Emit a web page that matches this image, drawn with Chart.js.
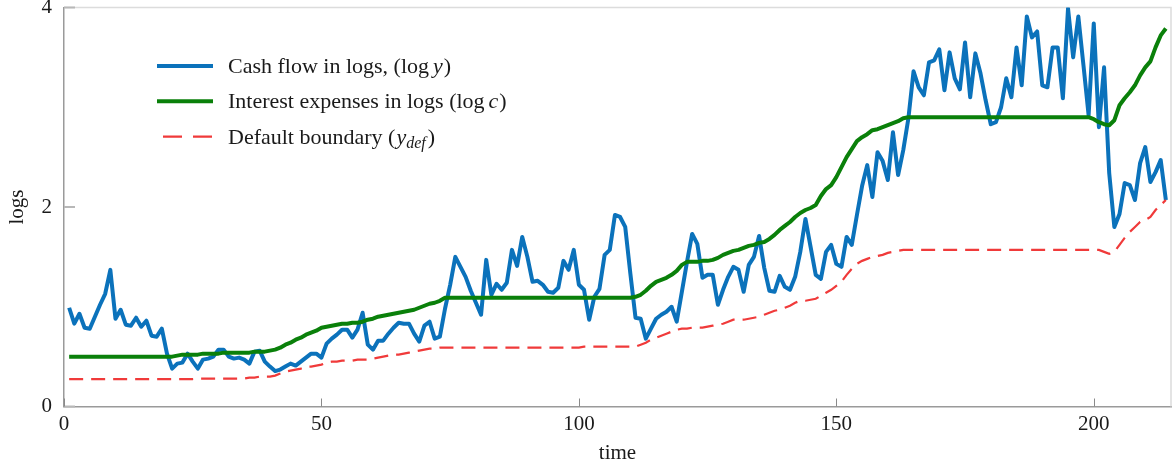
<!DOCTYPE html>
<html><head><meta charset="utf-8">
<script src="https://cdn.jsdelivr.net/npm/chart.js@4.4.0/dist/chart.umd.min.js"></script>
<style>html,body{margin:0;padding:0;background:#fff;}#wrap{position:relative;width:1173px;height:469px;}</style>
</head><body><div id="wrap"><canvas id="c" width="1173" height="469"></canvas></div>
<script>
const time = [1,2,3,4,5,6,7,8,9,10,11,12,13,14,15,16,17,18,19,20,21,22,23,24,25,26,27,28,29,30,31,32,33,34,35,36,37,38,39,40,41,42,43,44,45,46,47,48,49,50,51,52,53,54,55,56,57,58,59,60,61,62,63,64,65,66,67,68,69,70,71,72,73,74,75,76,77,78,79,80,81,82,83,84,85,86,87,88,89,90,91,92,93,94,95,96,97,98,99,100,101,102,103,104,105,106,107,108,109,110,111,112,113,114,115,116,117,118,119,120,121,122,123,124,125,126,127,128,129,130,131,132,133,134,135,136,137,138,139,140,141,142,143,144,145,146,147,148,149,150,151,152,153,154,155,156,157,158,159,160,161,162,163,164,165,166,167,168,169,170,171,172,173,174,175,176,177,178,179,180,181,182,183,184,185,186,187,188,189,190,191,192,193,194,195,196,197,198,199,200,201,202,203,204,205,206,207,208,209,210,211,212,213,214];

const cashFlow = [
0.99,0.83,0.93,0.79,0.78,0.90,1.02,1.13,1.37,0.88,
0.97,0.82,0.81,0.89,0.80,0.86,0.71,0.70,0.78,0.53,
0.38,0.43,0.44,0.53,0.45,0.38,0.47,0.48,0.50,0.57,
0.57,0.50,0.48,0.49,0.47,0.43,0.55,0.56,0.45,0.40,
0.355,0.37,0.40,0.43,0.41,0.45,0.49,0.53,0.53,0.49,
0.63,0.68,0.72,0.77,0.77,0.69,0.77,0.94,0.62,0.57,
0.66,0.66,0.73,0.79,0.84,0.83,0.83,0.73,0.65,0.81,
0.85,0.68,0.70,0.98,1.22,1.50,1.40,1.30,1.16,1.04,
0.92,1.47,1.12,1.23,1.17,1.24,1.57,1.41,1.70,1.50,
1.25,1.26,1.22,1.15,1.14,1.19,1.46,1.37,1.57,1.22,
1.17,0.87,1.10,1.18,1.52,1.57,1.92,1.90,1.80,1.33,
0.89,0.88,0.68,0.78,0.88,0.92,0.95,1.00,0.85,1.15,
1.45,1.73,1.63,1.29,1.32,1.32,1.02,1.17,1.30,1.40,
1.37,1.15,1.42,1.50,1.71,1.39,1.16,1.15,1.31,1.20,
1.17,1.30,1.55,1.88,1.60,1.32,1.28,1.55,1.62,1.43,
1.40,1.70,1.62,1.92,2.21,2.42,2.10,2.55,2.46,2.27,
2.75,2.32,2.57,2.89,3.36,3.20,3.12,3.45,3.47,3.58,
3.17,3.55,3.29,3.18,3.65,3.10,3.54,3.34,3.07,2.83,
2.85,3.00,3.29,3.10,3.60,3.22,3.91,3.70,3.76,3.22,
3.20,3.60,3.60,3.09,3.99,3.50,3.91,3.42,2.92,3.84,
2.80,3.40,2.34,1.80,1.93,2.24,2.22,2.07,2.44,2.60,
2.25,2.35,2.47,2.07];

const interest = [
0.50,0.50,0.50,0.50,0.50,0.50,0.50,0.50,0.50,0.50,
0.50,0.50,0.50,0.50,0.50,0.50,0.50,0.50,0.50,0.50,
0.50,0.51,0.52,0.52,0.52,0.52,0.53,0.53,0.53,0.53,
0.54,0.54,0.54,0.54,0.54,0.54,0.55,0.55,0.55,0.56,
0.57,0.59,0.62,0.64,0.67,0.69,0.72,0.74,0.76,0.79,
0.80,0.81,0.82,0.83,0.83,0.84,0.84,0.85,0.87,0.88,
0.90,0.91,0.92,0.93,0.94,0.95,0.96,0.97,0.99,1.01,
1.03,1.04,1.06,1.09,1.09,1.09,1.09,1.09,1.09,1.09,
1.09,1.09,1.09,1.09,1.09,1.09,1.09,1.09,1.09,1.09,
1.09,1.09,1.09,1.09,1.09,1.09,1.09,1.09,1.09,1.09,
1.09,1.09,1.09,1.09,1.09,1.09,1.09,1.09,1.09,1.09,
1.10,1.12,1.16,1.21,1.25,1.27,1.29,1.32,1.36,1.42,
1.45,1.45,1.45,1.46,1.46,1.47,1.49,1.52,1.54,1.56,
1.57,1.59,1.61,1.62,1.64,1.65,1.68,1.72,1.77,1.81,
1.85,1.90,1.94,1.97,1.99,2.02,2.11,2.18,2.22,2.30,
2.40,2.50,2.58,2.66,2.70,2.73,2.77,2.78,2.80,2.82,
2.84,2.86,2.89,2.90,2.90,2.90,2.90,2.90,2.90,2.90,
2.90,2.90,2.90,2.90,2.90,2.90,2.90,2.90,2.90,2.90,
2.90,2.90,2.90,2.90,2.90,2.90,2.90,2.90,2.90,2.90,
2.90,2.90,2.90,2.90,2.90,2.90,2.90,2.90,2.90,2.88,
2.85,2.83,2.82,2.87,3.02,3.09,3.15,3.22,3.32,3.40,
3.46,3.60,3.72,3.79];

const defaultBoundary = [
0.275,0.275,0.275,0.275,0.275,0.275,0.275,0.275,0.275,0.275,
0.275,0.275,0.275,0.275,0.275,0.275,0.275,0.275,0.275,0.275,
0.275,0.275,0.275,0.275,0.275,0.28,0.28,0.28,0.28,0.28,
0.28,0.28,0.28,0.28,0.28,0.29,0.29,0.30,0.30,0.30,
0.31,0.33,0.35,0.36,0.37,0.38,0.40,0.40,0.41,0.42,
0.44,0.45,0.45,0.46,0.46,0.46,0.47,0.47,0.47,0.48,
0.49,0.50,0.51,0.52,0.52,0.53,0.54,0.55,0.56,0.57,
0.58,0.58,0.59,0.59,0.59,0.59,0.59,0.59,0.59,0.59,
0.59,0.59,0.59,0.59,0.59,0.59,0.59,0.59,0.59,0.59,
0.59,0.59,0.59,0.59,0.59,0.59,0.59,0.59,0.59,0.59,
0.60,0.60,0.60,0.60,0.60,0.60,0.60,0.60,0.60,0.60,
0.60,0.62,0.64,0.67,0.69,0.71,0.73,0.75,0.77,0.78,
0.78,0.79,0.79,0.79,0.80,0.81,0.82,0.83,0.85,0.87,
0.87,0.87,0.88,0.89,0.90,0.92,0.94,0.96,0.97,0.99,
1.01,1.04,1.06,1.06,1.07,1.08,1.11,1.14,1.17,1.21,
1.25,1.32,1.38,1.43,1.46,1.48,1.50,1.51,1.52,1.54,
1.55,1.56,1.57,1.57,1.57,1.57,1.57,1.57,1.57,1.57,
1.57,1.57,1.57,1.57,1.57,1.57,1.57,1.57,1.57,1.57,
1.57,1.57,1.57,1.57,1.57,1.57,1.57,1.57,1.57,1.57,
1.57,1.57,1.57,1.57,1.57,1.57,1.57,1.57,1.57,1.57,
1.57,1.55,1.53,1.55,1.62,1.69,1.75,1.80,1.85,1.87,
1.90,1.97,2.02,2.07];

const xTicks = [0, 50, 100, 150, 200];
const yTicks = [0, 2, 4];
const xTitle = 'time';
const yTitle = 'logs';

const FONT = "'Liberation Serif', 'Times New Roman', serif";
const TXT = '#1a1a1a';
const C_BLUE = '#0b72bb', C_GREEN = '#0a800a', C_RED = '#f03a3a';

const pts = arr => time.map((t, i) => ({x: t, y: arr[i]}));

const framePlugin = {
  id: 'frame',
  beforeDatasetsDraw(chart) {
    const {ctx, chartArea: a, scales: {x, y}} = chart;
    ctx.save();
    ctx.strokeStyle = '#dcdcdc'; ctx.lineWidth = 1.5;
    ctx.beginPath();
    ctx.moveTo(a.left, a.top); ctx.lineTo(a.right, a.top); ctx.lineTo(a.right, a.bottom);
    ctx.stroke();
    ctx.strokeStyle = '#b8b8b8'; ctx.lineWidth = 2;
    yTicks.forEach(v => { const py = y.getPixelForValue(v); ctx.beginPath(); ctx.moveTo(a.left, py); ctx.lineTo(a.left + 11, py); ctx.stroke(); });
    ctx.strokeStyle = '#8a8a8a'; ctx.lineWidth = 1;
    xTicks.forEach(v => { const px = Math.round(x.getPixelForValue(v)) + 0.5; ctx.beginPath(); ctx.moveTo(px, a.bottom); ctx.lineTo(px, a.bottom - 8); ctx.stroke(); });
    ctx.restore();
  }
};

function drawRuns(ctx, x, y, runs) {
  runs.forEach(r => {
    ctx.font = (r.italic ? 'italic ' : '') + r.size + 'px ' + FONT;
    ctx.fillText(r.t, x, y + (r.dy || 0));
    x += ctx.measureText(r.t).width + (r.after || 0);
  });
}

const legendItems = [
  {color: C_BLUE, width: 4, dash: [], runs: [{t: 'Cash flow in logs, (log', size: 22, after: 4}, {t: 'y', size: 22, italic: true, after: 1}, {t: ')', size: 22}]},
  {color: C_GREEN, width: 4, dash: [], runs: [{t: 'Interest expenses in logs (log', size: 22, after: 4}, {t: 'c', size: 22, italic: true, after: 1}, {t: ')', size: 22}]},
  {color: C_RED, width: 2.4, dash: [19, 11], runs: [{t: 'Default boundary (', size: 22, after: 1}, {t: 'y', size: 22, italic: true}, {t: 'def', size: 16, italic: true, dy: 4, after: 2}, {t: ')', size: 22}]}
];

const legendPlugin = {
  id: 'innerLegend',
  afterDraw(chart) {
    const ctx = chart.ctx;
    ctx.save();
    legendItems.forEach((it, i) => {
      const ly = 66 + i * 35.3;
      ctx.strokeStyle = it.color; ctx.lineWidth = it.width; ctx.setLineDash(it.dash);
      ctx.beginPath();
      if (it.dash.length) { ctx.moveTo(163, ly); ctx.lineTo(213, ly); }
      else { ctx.moveTo(157, ly); ctx.lineTo(213, ly); }
      ctx.stroke();
      ctx.setLineDash([]);
      ctx.fillStyle = TXT; ctx.textBaseline = 'alphabetic'; ctx.textAlign = 'left';
      drawRuns(ctx, 228, ly + 7, it.runs);
    });
    ctx.restore();
  }
};

new Chart(document.getElementById('c'), {
  type: 'line',
  data: {
    datasets: [
      {label: 'Cash flow in logs', data: pts(cashFlow), borderColor: C_BLUE, borderWidth: 4, pointRadius: 0, tension: 0, order: 3, borderJoinStyle: 'round'},
      {label: 'Interest expenses in logs', data: pts(interest), borderColor: C_GREEN, borderWidth: 4, pointRadius: 0, tension: 0, order: 2, borderJoinStyle: 'round'},
      {label: 'Default boundary', data: pts(defaultBoundary), borderColor: C_RED, borderWidth: 2.2, borderDash: [14, 8], pointRadius: 0, tension: 0, order: 1}
    ]
  },
  options: {
    responsive: false, animation: false,
    layout: {padding: {top: 7.5, right: 2, left: 0, bottom: 0}},
    plugins: {legend: {display: false}, tooltip: {enabled: false}},
    scales: {
      x: {
        type: 'linear', min: 0, max: 215,
        afterBuildTicks: s => { s.ticks = xTicks.map(v => ({value: v})); },
        afterFit: s => { s.height = 62.5; s.paddingLeft = 0; s.paddingRight = 0; },
        grid: {display: false, drawTicks: false},
        border: {display: true, color: '#9a9a9a', width: 1.5},
        ticks: {padding: 5, maxRotation: 0, color: TXT, font: {family: FONT, size: 21}},
        title: {display: true, text: xTitle, color: TXT, font: {family: FONT, size: 21}, padding: {top: 0, bottom: 3.4}}
      },
      y: {
        type: 'linear', min: 0, max: 4,
        afterBuildTicks: s => { s.ticks = yTicks.map(v => ({value: v})); },
        afterFit: s => { s.width = 64; s.paddingTop = 0; s.paddingBottom = 0; },
        grid: {display: false, drawTicks: false},
        border: {display: true, color: '#9a9a9a', width: 1.5},
        ticks: {padding: 12, color: TXT, font: {family: FONT, size: 21}},
        title: {display: true, text: yTitle, color: TXT, font: {family: FONT, size: 21}, padding: {top: 4.4, bottom: 0}}
      }
    }
  },
  plugins: [framePlugin, legendPlugin]
});
</script></body></html>
